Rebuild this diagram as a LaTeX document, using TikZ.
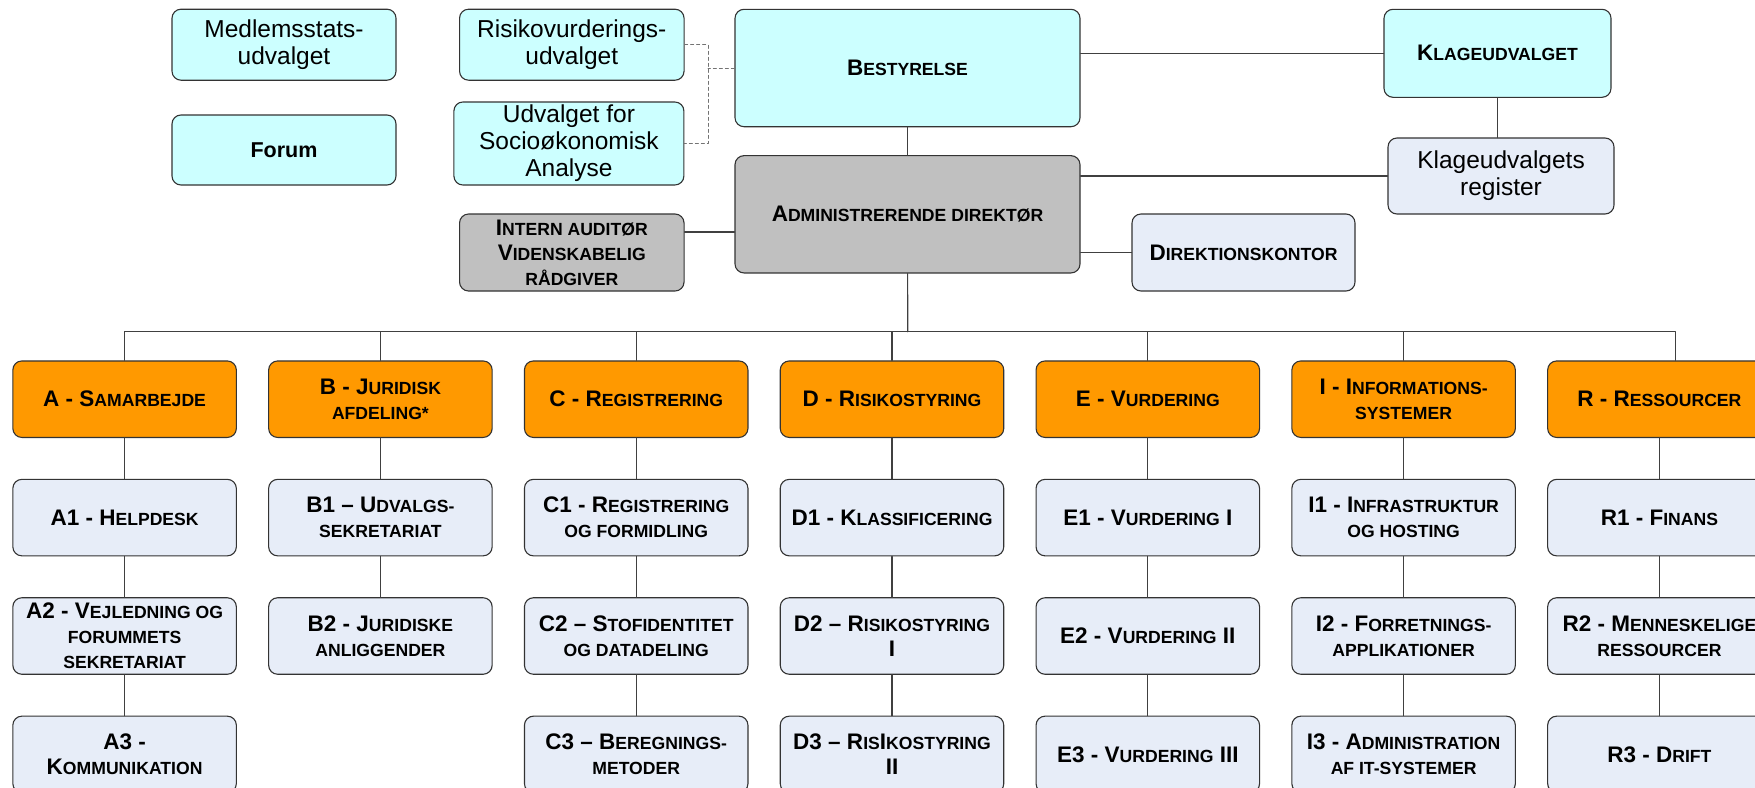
\documentclass[tikz,border=0pt]{standalone}
\usepackage{fontspec}
\setmainfont{Liberation Sans}
\usepackage{xcolor}
\usetikzlibrary{calc,positioning}

\definecolor{boxcyan}{HTML}{CCFFFF}
\definecolor{boxgrey}{HTML}{C0C0C0}
\definecolor{boxpale}{HTML}{E7EDF8}
\definecolor{boxorange}{HTML}{FF9900}

\newcommand\lowcaps[1]{{\fontsize{17.6}{25}\selectfont #1}}

\tikzset{%
        board/.style = { draw=black!80, line width=1.1pt, rounded corners=9pt, align=center, inner sep=2pt },
        plain/.style = { font=\fontsize{24.5}{27}\selectfont },
      heading/.style = { font=\bfseries\fontsize{22.5}{25}\selectfont },
      cyanbox/.style = { board, fill=boxcyan },
      greybox/.style = { board, heading, fill=boxgrey },
      palebox/.style = { board, fill=boxpale },
         dept/.style = { board, heading, fill=boxorange, minimum width=223.5pt, minimum height=76.5pt },
         sect/.style = { board, heading, fill=boxpale, minimum width=223.5pt, minimum height=76.5pt },
         link/.style = { draw=black!75, line width=1.2pt },
        dlink/.style = { draw=black!55, line width=1pt, dashed }
}

\begin{document}
\begin{tikzpicture}[x=1pt,y=-1pt,line cap=round,line join=round,node distance=40.8pt]
\useasboundingbox (0,0) rectangle (1755,787);
% committees and board
\node[cyanbox, plain, minimum width=224pt, minimum height=71pt] (medlem) at (284,44.7) {Medlemsstats-\\udvalget};
\node[cyanbox, heading, font=\bfseries\fontsize{21.5}{25}\selectfont, minimum width=224pt, minimum height=70pt] (forum) at (284,150) {Forum};
\node[cyanbox, plain, minimum width=224.5pt, minimum height=71pt] (risiko) at (571.8,44.7) {Risikovurderings-\\udvalget};
\node[cyanbox, plain, minimum width=230pt, minimum height=83pt] (socio) at (568.9,143.5) {Udvalget for\\Socioøkonomisk\\Analyse};
\node[greybox, minimum width=224.5pt, minimum height=77pt] (intern) at (571.8,252.5) {I\lowcaps{NTERN AUDITØR}\\V\lowcaps{IDENSKABELIG}\\\lowcaps{RÅDGIVER}};
\node[cyanbox, heading, minimum width=345pt, minimum height=117.4pt] (bestyrelse) at (907.5,68) {B\lowcaps{ESTYRELSE}};
\node[greybox, minimum width=345pt, minimum height=117.3pt] (admin) at (907.5,214.3) {A\lowcaps{DMINISTRERENDE DIREKTØR}};
\node[cyanbox, heading, minimum width=227pt, minimum height=88pt] (klage) at (1497.5,53.3) {K\lowcaps{LAGEUDVALGET}};
\node[palebox, plain, minimum width=226pt, minimum height=76pt] (register) at (1501,176) {Klageudvalgets\\register};
\node[palebox, heading, minimum width=223pt, minimum height=77pt] (direktion) at (1243.5,252.5) {D\lowcaps{IREKTIONSKONTOR}};

\coordinate (dsplit) at ($(risiko.east)!.47!(bestyrelse.west)$);
\draw[dlink] (risiko.east) -| (dsplit |- socio.east) -- (socio.east);
\draw[dlink] (bestyrelse.west) -- (dsplit |- bestyrelse.west);
\draw[link] (bestyrelse) -- (admin);
\draw[link] (klage.west) -- (klage.west -| bestyrelse.east);
\draw[link] (klage.south) -- (klage.south |- register.north);
\draw[link] (register.west) -- (register.west -| admin.east);
\draw[link] (direktion.west) -- (direktion.west -| admin.east);
\draw[link] ([yshift=20.5pt]intern.east) -- ([yshift=20.5pt]intern.east -| admin.west);

% departments
\node[dept] (A) at (124.6,399.2) {A - S\lowcaps{AMARBEJDE}};
\node[dept] (B) at (380.4,399.2) {B - J\lowcaps{URIDISK}\\\lowcaps{AFDELING*}};
\node[dept] (C) at (636.2,399.2) {C - R\lowcaps{EGISTRERING}};
\node[dept] (D) at (892,399.2) {D - R\lowcaps{ISIKOSTYRING}};
\node[dept] (E) at (1147.8,399.2) {E - V\lowcaps{URDERING}};
\node[dept] (I) at (1403.6,399.2) {I - I\lowcaps{NFORMATIONS-}\\\lowcaps{SYSTEMER}};
\node[dept] (R) at (1659.4,399.2) {R - R\lowcaps{ESSOURCER}};

% units
\node[sect, below=of A] (A1) {A1 - H\lowcaps{ELPDESK}};
\node[sect, below=of A1] (A2) {A2 - V\lowcaps{EJLEDNING OG}\\\lowcaps{FORUMMETS}\\\lowcaps{SEKRETARIAT}};
\node[sect, below=of A2] (A3) {A3 -\\K\lowcaps{OMMUNIKATION}};
\node[sect, below=of B] (B1) {B1 -- U\lowcaps{DVALGS-}\\\lowcaps{SEKRETARIAT}};
\node[sect, below=of B1] (B2) {B2 - J\lowcaps{URIDISKE}\\\lowcaps{ANLIGGENDER}};
\node[sect, below=of C] (C1) {C1 - R\lowcaps{EGISTRERING}\\\lowcaps{OG FORMIDLING}};
\node[sect, below=of C1] (C2) {C2 -- S\lowcaps{TOFIDENTITET}\\\lowcaps{OG DATADELING}};
\node[sect, below=of C2] (C3) {C3 -- B\lowcaps{EREGNINGS-}\\\lowcaps{METODER}};
\node[sect, below=of D] (D1) {D1 - K\lowcaps{LASSIFICERING}};
\node[sect, below=of D1] (D2) {D2 -- R\lowcaps{ISIKOSTYRING}\\I};
\node[sect, below=of D2] (D3) {D3 -- R\lowcaps{IS}I\lowcaps{KOSTYRING}\\II};
\node[sect, below=of E] (E1) {E1 - V\lowcaps{URDERING} I};
\node[sect, below=of E1] (E2) {E2 - V\lowcaps{URDERING} II};
\node[sect, below=of E2] (E3) {E3 - V\lowcaps{URDERING} III};
\node[sect, below=of I] (I1) {I1 - I\lowcaps{NFRASTRUKTUR}\\\lowcaps{OG HOSTING}};
\node[sect, below=of I1] (I2) {I2 - F\lowcaps{ORRETNINGS-}\\\lowcaps{APPLIKATIONER}};
\node[sect, below=of I2] (I3) {I3 - A\lowcaps{DMINISTRATION}\\\lowcaps{AF IT-SYSTEMER}};
\node[sect, below=of R] (R1) {R1 - F\lowcaps{INANS}};
\node[sect, below=of R1] (R2) {R2 - M\lowcaps{ENNESKELIGE}\\\lowcaps{RESSOURCER}};
\node[sect, below=of R2] (R3) {R3 - D\lowcaps{RIFT}};

% bus from the director down to the departments
\coordinate (bus) at (907.7,331.7);
\coordinate (rtop) at ([xshift=16pt]R.north);
\draw[link] (admin) -- (bus);
\draw[link] (A.north) |- (rtop |- bus) -- (rtop);
\foreach \d in {B,C,D,E,I}
  \draw[link] (\d.north) -- (\d.north |- bus);
\foreach \d in {A,C,D,E,I,R}
  \draw[link] (\d) -- (\d1) -- (\d2) -- (\d3);
\draw[link] (B) -- (B1) -- (B2);
\end{tikzpicture}
\end{document}
